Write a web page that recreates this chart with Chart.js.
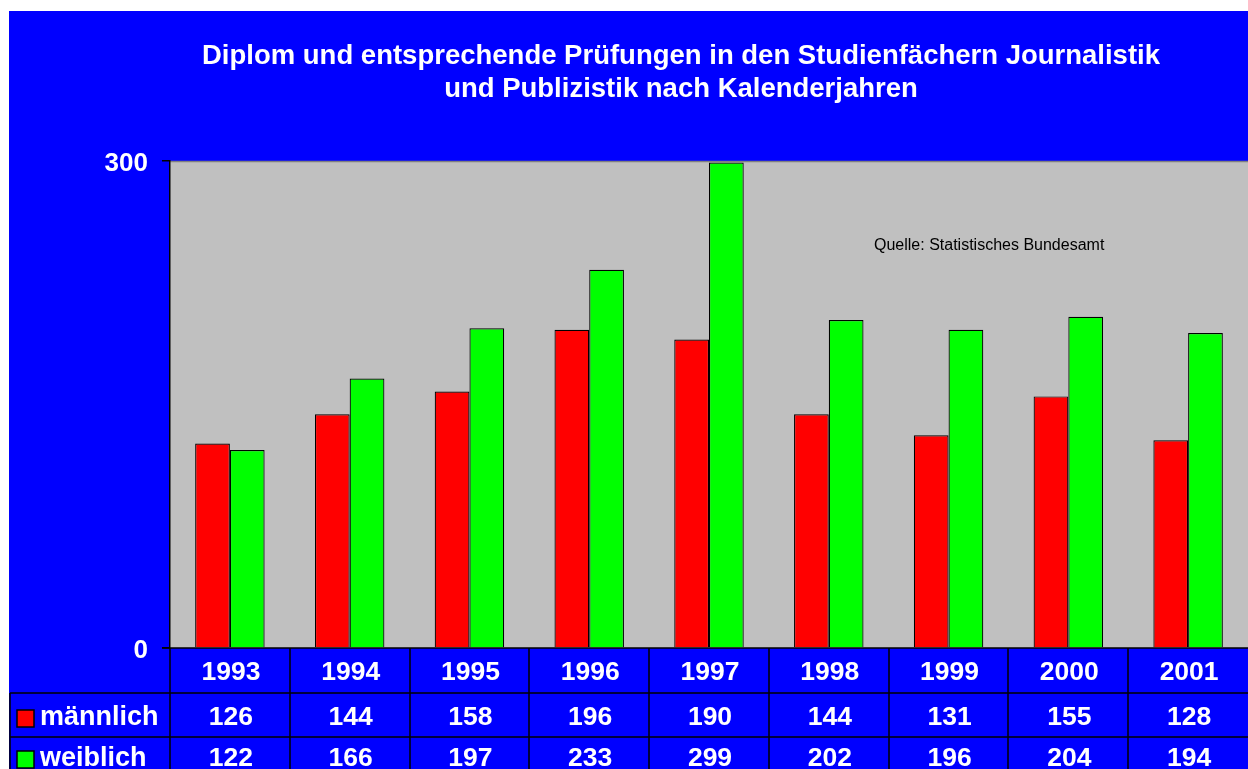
<!DOCTYPE html>
<html>
<head>
<meta charset="utf-8">
<script src="https://cdn.jsdelivr.net/npm/chart.js@4/dist/chart.umd.min.js"></script>
<style>
  html, body { margin: 0; padding: 0; background: #fff; }
  #wrap { width: 1248px; height: 769px; position: relative; }
</style>
</head>
<body>
<div id="wrap"><canvas id="chart" width="1248" height="769"></canvas></div>
<script>
// ---- Data ------------------------------------------------
const years     = ["1993", "1994", "1995", "1996", "1997", "1998", "1999", "2000", "2001"];
const maennlich = [126, 144, 158, 196, 190, 144, 131, 155, 128];
const weiblich  = [122, 166, 197, 233, 299, 202, 196, 204, 194];
const yTicks    = [0, 300];

const titleLines = [
  "Diplom und entsprechende Prüfungen in den Studienfächern Journalistik",
  "und Publizistik nach Kalenderjahren",
];
const sourceNote = "Quelle: Statistisches Bundesamt";

const FONT = "'Liberation Sans', Arial, sans-serif";
const BLUE = "#0000FF";

// ---- Background, plot frame, title, note ----------------
const framePlugin = {
  id: "frame",
  beforeDraw(chart) {
    const { ctx, chartArea: a } = chart;
    ctx.save();
    ctx.fillStyle = "#fff";
    ctx.fillRect(0, 0, chart.width, chart.height);
    ctx.fillStyle = BLUE;
    ctx.fillRect(9, 11, chart.width - 9, chart.height - 11);
    ctx.fillStyle = "#C0C0C0";
    ctx.fillRect(a.left, a.top, a.right - a.left, a.bottom - a.top);
    ctx.strokeStyle = "#808080";
    ctx.lineWidth = 1.5;
    ctx.beginPath();
    ctx.moveTo(a.left, a.top + 0.5);
    ctx.lineTo(a.right, a.top + 0.5);
    ctx.stroke();

    ctx.fillStyle = "#fff";
    ctx.font = `bold 27.5px ${FONT}`;
    ctx.textAlign = "center";
    ctx.textBaseline = "middle";
    ctx.fillText(titleLines[0], 681, 56);
    ctx.fillText(titleLines[1], 681, 89);

    ctx.fillStyle = "#000";
    ctx.font = `16px ${FONT}`;
    ctx.textAlign = "left";
    ctx.fillText(sourceNote, 874, 246);
    ctx.restore();
  },
};

// ---- Data table under the plot --------------------------
const tablePlugin = {
  id: "dataTable",
  afterDraw(chart) {
    const { ctx, chartArea: a } = chart;
    const x = chart.scales.x;
    const half = (x.getPixelForValue(1) - x.getPixelForValue(0)) / 2;
    const rows = [a.bottom, a.bottom + 45, a.bottom + 89, a.bottom + 135];
    const legendLeft = 10;

    ctx.save();
    ctx.strokeStyle = "#000";
    ctx.lineWidth = 1.5;
    ctx.beginPath();
    // axis line with tick at zero
    ctx.moveTo(a.left - 8, rows[0]);
    ctx.lineTo(a.right, rows[0]);
    ctx.moveTo(legendLeft, rows[1]);
    ctx.lineTo(a.right, rows[1]);
    ctx.moveTo(legendLeft, rows[2]);
    ctx.lineTo(a.right, rows[2]);
    ctx.moveTo(legendLeft, rows[1]);
    ctx.lineTo(legendLeft, rows[3]);
    years.forEach((_, i) => {
      const bx = Math.round(x.getPixelForValue(i) - half);
      ctx.moveTo(bx, rows[0]);
      ctx.lineTo(bx, rows[3]);
    });
    ctx.stroke();

    ctx.fillStyle = "#fff";
    ctx.font = `bold 26.5px ${FONT}`;
    ctx.textAlign = "center";
    ctx.textBaseline = "middle";
    years.forEach((y, i) => {
      const cx = x.getPixelForValue(i) + 1;
      ctx.fillText(y, cx, rows[0] + 25);
      ctx.fillText(String(maennlich[i]), cx, rows[1] + 25);
      ctx.fillText(String(weiblich[i]), cx, rows[2] + 22);
    });

    // row legend keys
    chart.data.datasets.forEach((ds, r) => {
      const cy = rows[r + 1] + (r === 0 ? 25 : 22);
      ctx.fillStyle = ds.backgroundColor;
      ctx.fillRect(17, cy - 8, 17, 17);
      ctx.lineWidth = 1.5;
      ctx.strokeRect(17, cy - 8, 17, 17);
      ctx.fillStyle = "#fff";
      ctx.font = `bold 27px ${FONT}`;
      ctx.textAlign = "left";
      ctx.fillText(ds.label, 40, cy);
    });
    ctx.restore();
  },
};

new Chart(document.getElementById("chart"), {
  type: "bar",
  data: {
    labels: years,
    datasets: [
      { label: "männlich", data: maennlich, backgroundColor: "#FF0000" },
      { label: "weiblich", data: weiblich,  backgroundColor: "#00FF00" },
    ],
  },
  options: {
    responsive: false,
    animation: false,
    layout: { padding: { left: 0, right: 0, top: 161, bottom: 121 } },
    datasets: {
      bar: { categoryPercentage: 0.58, barPercentage: 1.0, borderColor: "#000", borderWidth: 1.2 },
    },
    plugins: {
      legend: { display: false },
      title: { display: false },
      tooltip: { enabled: false },
    },
    scales: {
      x: { display: false },
      y: {
        min: 0,
        max: 300,
        afterBuildTicks: (axis) => { axis.ticks = yTicks.map((v) => ({ value: v })); },
        afterFit: (axis) => { axis.width = 170; },
        border: { display: true, color: "#000", width: 1.5 },
        grid: { drawOnChartArea: false, drawTicks: true, tickLength: 8, color: "#000", lineWidth: 1.5 },
        ticks: { color: "#fff", font: { family: FONT, size: 26, weight: "bold" }, padding: 14, labelOffset: 3 },
      },
    },
  },
  plugins: [framePlugin, tablePlugin],
});
</script>
</body>
</html>
